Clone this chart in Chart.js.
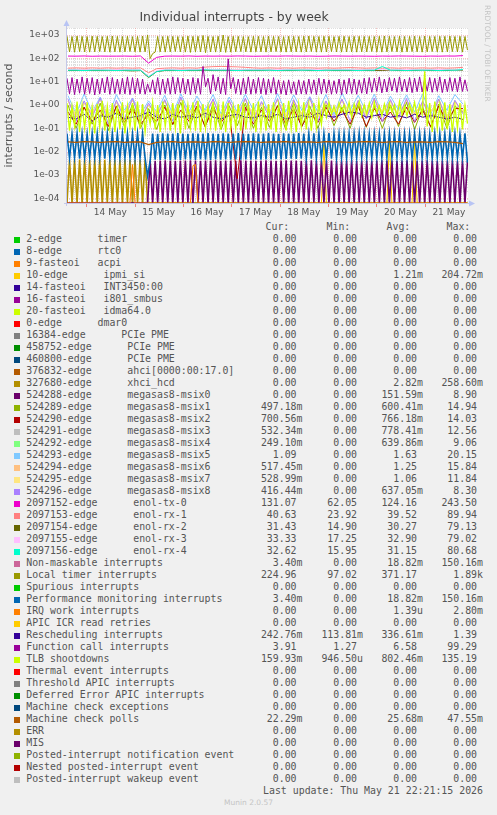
<!DOCTYPE html>
<html>
<head>
<meta charset="utf-8">
<script src="https://cdn.jsdelivr.net/npm/chart.js@4/dist/chart.umd.min.js"></script>
<style>
  body { margin: 0; background: #f0f0f0; width: 497px; height: 815px; overflow: hidden; position: relative; }
  #chart { position: absolute; left: 0; top: 0; }
  .t { position: absolute; font: 9.9px "DejaVu Sans Mono", monospace; line-height: 12px; height: 12px; white-space: pre; color: #555; }
  .v { text-align: right; width: 80px; }
  .sq { position: absolute; width: 6px; height: 6px; }
  #munin { position: absolute; left: 0; width: 497px; top: 798px; text-align: center; font: 7.5px "DejaVu Sans", sans-serif; color: #c4c4c4; }
</style>
</head>
<body>
<canvas id="chart" width="497" height="220"></canvas>
<div id="legend"></div>
<div id="munin">Munin 2.0.57</div>
<script>
// time axis in hours counted from 13 May 00:00
const xStartHour = 14.5;
const xEndHour = 213.5;
const dayLabelHours = [36, 60, 84, 108, 132, 156, 180, 204];
const dayLabels = ['14 May', '15 May', '16 May', '17 May', '18 May', '19 May', '20 May', '21 May'];
const yTickValues = [1e-4, 1e-3, 1e-2, 1e-1, 1, 10, 100, 1000];
const yTickLabels = ['1e-04', '1e-03', '1e-02', '1e-01', '1e+00', '1e+01', '1e+02', '1e+03'];
const yMin = 6.3e-5;
const yMax = 2000;

// rrd samples: fine = every 1.25 h (160 samples), coarse = every 4 h (50 samples)
const fineStart = 14.5, fineStep = 1.25;
const coarseStart = 15, coarseStep = 4;

// ---- fine series ----
const localTimer = [
  880,190,860,185,900,195,870,190,850,185,890,190,870,195,860,190,880,185,900,190,
  870,185,860,190,880,195,850,190,870,185,890,190,1000,98,160,185,870,190,860,185,
  880,190,870,195,860,190,850,185,900,180,870,190,880,190,950,175,870,190,860,185,
  880,190,1000,180,860,185,880,190,870,195,860,190,850,185,880,190,870,190,860,185,
  880,190,870,195,860,190,850,185,880,190,870,190,860,185,880,190,900,195,870,190,
  860,185,880,190,870,195,850,190,870,185,880,190,860,190,870,185,880,190,860,190,
  870,195,860,190,880,185,900,190,870,195,850,190,880,185,860,190,870,195,880,190,
  860,185,890,190,870,195,860,190,880,185,870,190,900,195,860,190,880,185,860,225
];
const funcCall = [
  14,3.0,15,2.8,13,3.2,16,2.9,14,3.1,15,2.7,13,3.0,14,3.3,16,2.9,15,3.1,
  13,2.9,14,3.0,16,2.8,15,3.1,14,3.0,13,2.9,8,3.5,12,3.0,15,2.8,13,3.1,
  14,2.9,16,3.0,15,3.2,14,3.0,13,2.8,15,3.1,14,2.9,45,6,14,3.0,20,4,
  16,3.0,14,2.8,95,5,15,3.1,13,2.8,14,3.0,16,2.9,13,3.1,15,3.0,14,2.8,
  13,3.2,15,2.9,12,3.0,11,2.7,12,3.1,10,2.8,12,3.0,11,2.9,13,3.1,12,2.8,
  14,3.0,13,3.2,12,2.9,11,3.1,13,2.8,12,3.0,14,3.1,13,2.9,12,3.2,14,3.0,
  15,3.5,14,3.8,16,3.3,13,3.6,15,4.0,14,3.5,16,3.8,13,3.6,15,3.4,14,3.7,
  16,3.6,13,3.9,15,3.5,14,3.8,16,3.4,13,3.7,15,3.9,14,3.6,16,3.8,12,3.9
];
const tlb = [
  1.2,0.08,0.9,0.12,1.4,0.07,1.0,0.10,1.3,0.09,0.8,0.06,1.1,0.11,1.5,0.08,0.9,0.10,1.2,0.07,
  1.0,0.09,1.3,0.06,0.9,0.11,1.2,0.08,1.4,0.10,1.1,0.07,0.6,0.15,1.3,0.09,1.0,0.07,1.4,0.12,
  0.9,0.08,1.2,0.10,1.1,0.06,1.6,0.09,1.0,0.11,1.3,0.08,1.5,0.07,1.1,0.10,0.9,0.12,1.3,0.08,
  1.0,0.09,1.4,0.07,1.2,0.11,0.9,0.10,1.1,0.08,1.3,0.09,1.0,0.12,1.2,0.07,1.4,0.10,0.9,0.08,
  1.1,0.09,1.3,0.07,1.0,0.11,1.2,0.08,1.5,0.10,0.9,0.07,1.1,0.12,1.3,0.09,1.0,0.08,1.2,0.11,
  1.4,0.15,1.1,0.3,1.3,0.4,0.9,0.35,1.2,0.5,1.0,0.4,1.3,0.3,1.1,0.45,1.4,0.35,1.0,0.4,
  1.2,0.3,1.3,0.45,0.9,0.35,1.1,0.4,1.2,0.5,1.0,0.3,1.4,0.4,0.9,0.35,1.1,0.45,1.3,0.3,
  1.0,0.4,28,0.12,1.2,0.07,1.4,0.10,1.0,0.08,1.3,0.09,1.1,0.07,0.9,0.10,1.2,0.09,1.0,0.16
];
const perfMon = [
  0.06,0.0052,0.058,0.0055,0.062,0.005,0.06,0.0053,0.057,0.0056,0.061,0.0052,0.06,0.0054,0.059,0.005,0.062,0.0055,0.06,0.0052,
  0.058,0.0054,0.061,0.0053,0.06,0.0055,0.059,0.0052,0.062,0.0054,0.06,0.0053,0.0009,0.004,0.06,0.0045,0.058,0.0044,0.061,0.0046,
  0.06,0.0043,0.059,0.0045,0.062,0.0044,0.06,0.0046,0.058,0.0045,0.061,0.0044,0.06,0.0046,0.059,0.0045,0.062,0.0044,0.06,0.0046,
  0.058,0.0045,0.061,0.0047,0.06,0.0045,0.059,0.0046,0.062,0.0045,0.06,0.0047,0.058,0.0045,0.061,0.0046,0.06,0.0045,0.059,0.0047,
  0.062,0.0046,0.06,0.0048,0.058,0.0047,0.061,0.0049,0.06,0.005,0.059,0.0049,0.062,0.005,0.06,0.0051,0.058,0.005,0.061,0.0052,
  0.06,0.0051,0.059,0.0053,0.062,0.005,0.06,0.0052,0.058,0.0054,0.061,0.0052,0.06,0.0053,0.059,0.0055,0.062,0.0054,0.06,0.0055,
  0.058,0.0053,0.061,0.0056,0.06,0.0054,0.059,0.0055,0.062,0.0053,0.06,0.0056,0.058,0.0054,0.061,0.0055,0.06,0.0053,0.059,0.0056,
  0.062,0.0054,0.06,0.0055,0.058,0.0053,0.061,0.0056,0.06,0.0054,0.059,0.0055,0.062,0.0053,0.06,0.0056,0.058,0.0054,0.061,0.0034
];
const xhciHcd = [
  0,0.0045,0,0.0045,0,0.0046,0,0.0045,0,0.0044,0,0.0045,0,0.0046,0,0.0045,0,0.0045,0,0.0044,
  0,0.0045,0,0.0046,0,0.0045,0,0.0044,0,0.0045,0,0.0045,0,0,0,0,0,0,0,0,
  0,0,0,0,0,0,0,0,0,0,0,0,0,0,0,0,0,0,0,0,
  0,0,0,0,0,0,0,0,0,0,0,0,0,0,0,0,0,0,0,0,
  0,0,0,0,0,0,0,0,0,0,0,0,0,0,0,0,0,0,0,0,
  0,0,0,0,0,0,0,0,0,0,0,0,0,0,0,0,0,0,0,0,
  0,0,0,0,0,0,0,0,0,0,0,0,0,0,0,0,0,0,0,0,
  0,0,0,0,0,0,0,0,0,0,0,0,0,0,0,0,0,0,0,0
];
const msix0 = [
  0,0,0,0,0,0,0,0,0,0,0,0,0,0,0,0,0,0,0,0,
  0,0,0,0,0,0,0,0,0,0,0,0,0,0.0042,0,0.0041,0,0.0042,0,0.0043,
  0,0.0042,0,0.0041,0,0.0042,0,0.0042,0,0.0043,0,0.0042,0,0.0041,0,0.0042,0,0.0042,0,0.0043,
  0,0.0041,0,0.0042,0,0.0042,0,0.0041,0,0.0043,0,0.0042,0,0.0042,0,0.0041,0,0.0042,0,0.0043,
  0,0.0042,0,0.0041,0,0.0042,0,0.0043,0,0.0042,0,0.0042,0,0.0041,0,0.0042,0,0.0043,0,0.0042,
  0,0.0042,0,0.0043,0,0.0042,0,0.0041,0,0.0042,0,0.0042,0,0.0043,0,0.0041,0,0.0042,0,0.0042,
  0,0.0041,0,0.0042,0,0.0043,0,0.0042,0,0.0042,0,0.0041,0,0.0042,0,0.0043,0,0.0042,0,0.0041,
  0,0.0042,0,0.0043,0,0.0042,0,0.0041,0,0.0042,0,0.0042,0,0.0043,0,0.0041,0,0.0042,0,0.0042
];
const irqWork = [
  0,0,0,0,0,0,0,0,0,0,0,0,0,0,0,0,0,0,0,0,
  0,0,0,0,0,0,0.0028,0,0,0,0,0,0,0,0,0,0,0,0,0,
  0,0,0,0,0,0,0,0,0,0,0.0025,0.0028,0,0,0,0,0,0,0,0,
  0,0,0,0,0,0,0,0,0,0,0,0,0,0,0,0,0,0,0,0,
  0,0,0,0,0,0,0,0,0,0,0,0,0,0,0,0,0,0,0,0,
  0,0,0,0,0,0,0,0,0,0,0,0,0,0,0,0,0,0,0,0,
  0,0,0,0,0,0,0,0,0,0,0,0,0,0,0,0,0,0,0,0,
  0,0,0,0,0,0,0,0,0,0,0,0,0,0,0,0,0,0,0,0
];
const ipmiSi = [
  0,0,0,0,0,0,0,0,0,0,0,0,0,0,0,0,0,0,0,0,
  0,0,0,0,0,0,0,0,0,0,0,0,0,0,0,0,0,0,0,0,
  0,0,0,0,0,0,0,0,0,0,0,0,0,0,0,0,0,0,0,0,
  0,0,0,0,0,0,0,0,0,0,0,0,0,0,0,0,0,0,0,0,
  0,0,0,0,0,0,0,0,0,0,0,0,0,0,0,0,0,0,0,0,
  0,0,0.02,0,0,0,0,0,0,0,0,0,0,0,0,0,0,0,0,0,
  0,0,0,0,0,0,0,0,0.03,0,0,0,0,0,0,0,0,0,0.025,0,
  0,0,0,0,0,0,0,0,0,0,0,0,0,0,0,0,0,0,0,0
];

// ---- coarse series ----
const tx0 = [125,124,126,123,125,124,124,125,123,126, 62,110,124,125,124,126,123,125,124,125,
  124,126,125,123,124,125,124,126,125,124, 125,123,124,126,125,124,125,124,123,125,
  124,126,125,124,123,125,124,126,125,131];
const rx1 = [38,39,38,39,38,39,38,39,38,39, 24,36,38,39,38,39,38,42,44,45,
  44,43,41,39,38,39,38,39,38,39, 39,38,39,38,39,40,39,38,39,38,
  39,38,39,38,39,38,39,38,39,41];
const rx2 = [30,30,31,30,30,30,31,30,29,30, 15,27,30,30,31,30,30,31,30,30,
  30,31,30,30,30,31,30,30,30,31, 30,30,31,30,30,30,31,30,30,30,
  31,30,30,30,31,30,30,30,31,31];
const rx3 = [33,33,32,33,33,32,33,33,33,32, 17,30,33,33,32,33,33,34,33,33,
  33,32,33,33,33,32,33,33,33,32, 33,33,32,33,33,33,32,33,33,33,
  32,33,33,33,32,33,33,33,32,33];
const rx4 = [31,31,30,31,31,31,30,31,31,31, 16,27,31,31,30,31,31,32,31,31,
  31,30,31,31,31,31,30,31,31,31, 31,30,31,31,31,31,30,31,31,45,
  31,31,30,31,31,31,30,31,31,33];
const resched = [0.3,0.25,0.4,0.2,0.35,0.3,0.45,0.25,0.3,0.35, 0.5,0.3,0.25,0.4,0.3,0.35,0.28,0.45,0.3,0.25,
  0.35,0.4,0.3,0.28,0.35,0.3,0.4,0.25,0.3,0.35, 0.3,0.45,0.35,0.3,0.4,0.5,0.45,0.3,0.35,0.4,
  0.3,0.35,0.28,0.4,0.3,0.35,0.3,0.25,0.3,0.24];
const mcPolls = [0.026,0.025,0.027,0.026,0.025,0.026,0.027,0.025,0.026,0.026, 0.02,0.025,0.026,0.027,0.025,0.026,0.026,0.025,0.027,0.026,
  0.025,0.026,0.027,0.026,0.025,0.026,0.026,0.027,0.025,0.026, 0.026,0.025,0.027,0.026,0.026,0.025,0.026,0.027,0.026,0.025,
  0.026,0.027,0.025,0.026,0.026,0.025,0.027,0.026,0.025,0.022];
const msix1 = [1.0,0.1,0.8,0.15,1.2,0.08,0.9,0.12,1.1,0.1, 0.7,0.09,1.0,0.14,1.3,0.1,0.8,0.12,1.1,0.09,
  0.9,0.13,1.2,0.1,0.8,0.11,1.0,0.09,1.3,0.12, 0.9,0.1,1.1,0.13,0.8,0.1,1.2,0.11,0.9,0.1,
  1.0,0.12,1.3,0.09,0.8,0.11,1.1,0.1,0.9,0.5];
const msix2 = [0.5,0.15,0.8,0.2,0.6,0.12,0.9,0.18,0.7,0.15, 0.4,0.2,0.8,0.15,0.6,0.2,0.9,0.12,0.7,0.18,
  0.5,0.0007,0.8,0.15,0.6,0.2,0.9,0.15,0.7,0.12, 0.5,0.18,0.8,0.2,0.6,0.15,0.9,0.12,0.7,0.2,
  0.5,0.15,0.8,0.18,0.6,0.12,0.9,0.2,0.7,0.70];
const msix5 = [2.5,0.4,3,0.5,2.2,0.3,2.8,0.6,2.0,0.4, 1.5,0.5,2.6,0.4,3.0,0.5,2.4,0.6,2.8,0.4,
  2.2,0.5,2.9,0.6,2.5,0.4,3.1,0.5,2.7,0.6, 2.3,0.5,2.8,0.4,3.2,0.6,2.6,0.5,2.9,0.4,
  2.4,0.6,2.7,0.5,3.0,0.4,2.5,0.6,2.8,1.09];
const msix6 = [1.5,0.3,1.2,0.4,1.8,0.3,1.4,0.5,1.6,0.3, 1.0,0.4,1.5,0.3,1.9,0.4,1.3,0.5,1.7,0.3,
  1.4,0.4,1.8,0.3,1.2,0.5,1.6,0.3,1.5,0.4, 1.9,0.3,1.3,0.5,1.7,0.4,1.4,0.3,1.8,0.5,
  1.5,0.3,1.6,0.4,1.3,0.5,1.7,0.3,1.4,0.52];
const msix7 = [1.4,0.4,1.1,0.5,1.6,0.35,1.2,0.45,1.5,0.4, 0.9,0.5,1.3,0.4,1.7,0.45,1.1,0.5,1.4,0.35,
  1.2,0.45,1.6,0.4,1.0,0.5,1.5,0.4,1.3,0.45, 1.7,0.35,1.1,0.5,1.4,0.45,1.2,0.4,1.6,0.5,
  1.3,0.4,1.5,0.45,1.1,0.5,1.4,0.35,1.2,0.53];
const msix8 = [1.8,0.2,1.5,0.3,2.0,0.15,1.6,0.25,1.9,0.2, 1.2,0.3,1.7,0.2,2.2,0.25,1.5,0.3,1.8,0.2,
  1.6,0.25,2.0,0.2,1.4,0.3,1.9,0.2,1.7,0.25, 2.1,0.2,1.5,0.3,1.8,0.2,1.6,0.25,2.0,0.2,
  1.7,0.3,1.9,0.2,1.5,0.25,1.8,0.2,1.6,0.42];

// ---- legend ----
const legendNames = [
  '2-edge      timer', '8-edge      rtc0', '9-fasteoi   acpi', '10-edge      ipmi_si',
  '14-fasteoi   INT3450:00', '16-fasteoi   i801_smbus', '20-fasteoi   idma64.0', '0-edge      dmar0',
  '16384-edge      PCIe PME', '458752-edge      PCIe PME', '460800-edge      PCIe PME',
  '376832-edge      ahci[0000:00:17.0]', '327680-edge      xhci_hcd',
  '524288-edge      megasas8-msix0', '524289-edge      megasas8-msix1', '524290-edge      megasas8-msix2',
  '524291-edge      megasas8-msix3', '524292-edge      megasas8-msix4', '524293-edge      megasas8-msix5',
  '524294-edge      megasas8-msix6', '524295-edge      megasas8-msix7', '524296-edge      megasas8-msix8',
  '2097152-edge      enol-tx-0', '2097153-edge      enol-rx-1', '2097154-edge      enol-rx-2',
  '2097155-edge      enol-rx-3', '2097156-edge      enol-rx-4',
  'Non-maskable interrupts', 'Local timer interrupts', 'Spurious interrupts',
  'Performance monitoring interrupts', 'IRQ work interrupts', 'APIC ICR read retries',
  'Rescheduling interrupts', 'Function call interrupts', 'TLB shootdowns',
  'Thermal event interrupts', 'Threshold APIC interrupts', 'Deferred Error APIC interrupts',
  'Machine check exceptions', 'Machine check polls', 'ERR', 'MIS',
  'Posted-interrupt notification event', 'Nested posted-interrupt event', 'Posted-interrupt wakeup event'
];
const legendColors = [
  '#00CC00', '#0066B3', '#FF8000', '#FFCC00', '#330099', '#990099', '#CCFF00', '#FF0000',
  '#808080', '#008F00', '#00487D', '#B35A00', '#B38F00', '#6B006B', '#8FB300', '#B30000',
  '#BEBEBE', '#80FF80', '#80C9FF', '#FFC080', '#FFE680', '#AA80FF', '#EE00CC', '#FF8080',
  '#666600', '#FFBFFF', '#00FFCC', '#CC6699', '#999900', '#00CC00', '#0066B3', '#FF8000',
  '#FFCC00', '#330099', '#990099', '#CCFF00', '#FF0000', '#808080', '#008F00', '#00487D',
  '#B35A00', '#B38F00', '#6B006B', '#8FB300', '#B30000', '#BEBEBE'
];
const curVals = ['0.00','0.00','0.00','0.00','0.00','0.00','0.00','0.00','0.00','0.00','0.00','0.00','0.00',
  '0.00','497.18m','700.56m','532.34m','249.10m','1.09','517.45m','528.99m','416.44m',
  '131.07','40.63','31.43','33.33','32.62','3.40m','224.96','0.00','3.40m','0.00','0.00',
  '242.76m','3.91','159.93m','0.00','0.00','0.00','0.00','22.29m','0.00','0.00','0.00','0.00','0.00'];
const minVals = ['0.00','0.00','0.00','0.00','0.00','0.00','0.00','0.00','0.00','0.00','0.00','0.00','0.00',
  '0.00','0.00','0.00','0.00','0.00','0.00','0.00','0.00','0.00',
  '62.05','23.92','14.90','17.25','15.95','0.00','97.02','0.00','0.00','0.00','0.00',
  '113.81m','1.27','946.50u','0.00','0.00','0.00','0.00','0.00','0.00','0.00','0.00','0.00','0.00'];
const avgVals = ['0.00','0.00','0.00','1.21m','0.00','0.00','0.00','0.00','0.00','0.00','0.00','0.00','2.82m',
  '151.59m','600.41m','766.18m','778.41m','639.86m','1.63','1.25','1.06','637.05m',
  '124.16','39.52','30.27','32.90','31.15','18.82m','371.17','0.00','18.82m','1.39u','0.00',
  '336.61m','6.58','802.46m','0.00','0.00','0.00','0.00','25.68m','0.00','0.00','0.00','0.00','0.00'];
const maxVals = ['0.00','0.00','0.00','204.72m','0.00','0.00','0.00','0.00','0.00','0.00','0.00','0.00','258.60m',
  '8.90','14.94','14.03','12.56','9.06','20.15','15.84','11.84','8.30',
  '243.50','89.94','79.13','79.02','80.68','150.16m','1.89k','0.00','150.16m','2.80m','0.00',
  '1.39','99.29','135.19','0.00','0.00','0.00','0.00','47.55m','0.00','0.00','0.00','0.00','0.00'];
const lastUpdate = 'Last update: Thu May 21 22:21:15 2026';

// which legend rows carry a drawn line (index into the legend arrays)
const plotted = [
  { row: 3, values: ipmiSi, fine: true },
  { row: 12, values: xhciHcd, fine: true, width: 1.6 },
  { row: 13, values: msix0, fine: true, width: 1.6 },
  { row: 14, values: msix1, fine: false },
  { row: 15, values: msix2, fine: false },
  { row: 18, values: msix5, fine: false },
  { row: 19, values: msix6, fine: false },
  { row: 20, values: msix7, fine: false },
  { row: 21, values: msix8, fine: false },
  { row: 22, values: tx0, fine: false },
  { row: 23, values: rx1, fine: false },
  { row: 24, values: rx2, fine: false },
  { row: 25, values: rx3, fine: false },
  { row: 26, values: rx4, fine: false },
  { row: 28, values: localTimer, fine: true },
  { row: 30, values: perfMon, fine: true, width: 1.6 },
  { row: 31, values: irqWork, fine: true },
  { row: 33, values: resched, fine: false },
  { row: 34, values: funcCall, fine: true },
  { row: 35, values: tlb, fine: true, width: 1.3 },
  { row: 40, values: mcPolls, fine: false, width: 1.3 }
];

// rrdtool puts zero at the bottom edge of a log graph
function toPoints(values, fine) {
  const start = fine ? fineStart : coarseStart;
  const step = fine ? fineStep : coarseStep;
  return values.map((v, i) => ({ x: start + i * step, y: v === 0 ? yMin : v }));
}

const datasets = plotted.map(p => ({
  label: legendNames[p.row],
  data: toPoints(p.values, p.fine),
  borderColor: legendColors[p.row],
  borderWidth: p.width || 1,
  pointRadius: 0,
  tension: 0,
  fill: false,
  order: -p.row   // later rows are painted on top, like rrdtool
}));

const majorGrid = 'rgba(240,150,150,0.6)';
const minorGrid = 'rgba(190,190,190,0.5)';

const rrdLook = {
  id: 'rrdLook',
  beforeDraw(chart) {
    const { ctx, chartArea: a } = chart;
    ctx.save();
    ctx.fillStyle = '#ffffff';
    ctx.fillRect(a.left, a.top, a.right - a.left, a.bottom - a.top);
    ctx.restore();
  },
  beforeDatasetsDraw(chart) {
    const { ctx, chartArea: a, scales } = chart;
    ctx.save();
    ctx.lineWidth = 1;
    ctx.setLineDash([1, 1]);
    // horizontal grid
    for (let e = -5; e <= 3; e++) {
      for (let m = 1; m <= 9; m++) {
        const v = m * Math.pow(10, e);
        if (v < yMin || v > yMax) continue;
        const y = Math.round(scales.y.getPixelForValue(v)) + 0.5;
        ctx.strokeStyle = m === 1 ? majorGrid : minorGrid;
        ctx.beginPath(); ctx.moveTo(a.left, y); ctx.lineTo(a.right, y); ctx.stroke();
      }
    }
    // vertical grid: 6 h minor, midnight major
    for (let h = 18; h < xEndHour; h += 6) {
      const x = Math.round(scales.x.getPixelForValue(h)) + 0.5;
      ctx.strokeStyle = h % 24 === 0 ? majorGrid : minorGrid;
      ctx.beginPath(); ctx.moveTo(x, a.top); ctx.lineTo(x, a.bottom); ctx.stroke();
    }
    ctx.restore();
  },
  afterDatasetsDraw(chart) {
    const { ctx, chartArea: a, scales } = chart;
    ctx.save();
    ctx.strokeStyle = '#c4c8e8';
    ctx.lineWidth = 1;
    ctx.beginPath();
    ctx.moveTo(a.left - 0.5, a.bottom + 3); ctx.lineTo(a.left - 0.5, a.top - 5);
    ctx.moveTo(a.left - 3, a.bottom + 0.5); ctx.lineTo(a.right + 3, a.bottom + 0.5);
    ctx.stroke();
    // midnight ticks under the axis
    ctx.strokeStyle = 'rgba(235,120,120,0.9)';
    for (let h = 24; h < xEndHour; h += 24) {
      const x = Math.round(scales.x.getPixelForValue(h)) + 0.5;
      ctx.beginPath(); ctx.moveTo(x, a.bottom + 1); ctx.lineTo(x, a.bottom + 4); ctx.stroke();
    }
    ctx.fillStyle = '#b8c4f4';
    ctx.beginPath();
    ctx.moveTo(a.left - 0.5, a.top - 8); ctx.lineTo(a.left - 3.5, a.top - 2); ctx.lineTo(a.left + 2.5, a.top - 2);
    ctx.closePath(); ctx.fill();
    ctx.beginPath();
    ctx.moveTo(a.right + 7, a.bottom + 0.5); ctx.lineTo(a.right + 1, a.bottom - 2.5); ctx.lineTo(a.right + 1, a.bottom + 3.5);
    ctx.closePath(); ctx.fill();
    ctx.restore();
  },
  afterDraw(chart) {
    const ctx = chart.ctx;
    ctx.save();
    ctx.translate(487, 5);
    ctx.rotate(Math.PI / 2);
    ctx.fillStyle = '#c4c4c4';
    ctx.font = '7.5px "DejaVu Sans"';
    ctx.textAlign = 'left';
    ctx.textBaseline = 'middle';
    ctx.fillText('RRDTOOL / TOBI OETIKER', 0, 0);
    ctx.restore();
  }
};

new Chart(document.getElementById('chart'), {
  type: 'line',
  data: { datasets },
  options: {
    responsive: false,
    animation: false,
    devicePixelRatio: 1,
    layout: { padding: { left: 0, top: 0, right: 29, bottom: 0 } },
    plugins: {
      legend: { display: false },
      tooltip: { enabled: false },
      title: {
        display: true,
        text: 'Individual interrupts - by week',
        color: '#444',
        font: { family: 'DejaVu Sans', size: 12.4, weight: 'normal' },
        padding: { top: 10.5, bottom: 2.6 }
      }
    },
    scales: {
      x: {
        type: 'linear',
        min: xStartHour,
        max: xEndHour,
        afterFit: s => { s.height = 17; },
        afterBuildTicks: s => { s.ticks = dayLabelHours.map(v => ({ value: v })); },
        grid: { display: false, drawTicks: false },
        border: { display: false },
        ticks: {
          autoSkip: false, maxRotation: 0, padding: 4, color: '#555',
          font: { family: 'DejaVu Sans', size: 9 },
          callback: (v, i) => dayLabels[i]
        }
      },
      y: {
        type: 'logarithmic',
        min: yMin,
        max: yMax,
        afterFit: s => { s.width = 67; },
        afterBuildTicks: s => { s.ticks = yTickValues.map(v => ({ value: v })); },
        grid: { display: false, drawTicks: false },
        border: { display: false },
        title: {
          display: true,
          text: 'interrupts / second',
          color: '#555',
          font: { family: 'DejaVu Sans', size: 11 },
          padding: { top: 3, bottom: 0 }
        },
        ticks: {
          padding: 7.5, color: '#555',
          font: { family: 'DejaVu Sans', size: 9 },
          callback: (v, i) => yTickLabels[i]
        }
      }
    }
  },
  plugins: [rrdLook]
});

// legend block under the graph
const legend = document.getElementById('legend');
function put(text, left, top, cls) {
  const d = document.createElement('div');
  d.className = cls;
  d.style.left = left + 'px';
  d.style.top = top + 'px';
  d.textContent = text;
  legend.appendChild(d);
}
function unitPad(s) { return /\d$/.test(s) ? s + ' ' : s; }
const headTop = 221.3;
put('Cur:', 265.5, headTop, 't');
put('Min:', 326.5, headTop, 't');
put('Avg:', 386.5, headTop, 't');
put('Max:', 446.5, headTop, 't');
const colRight = [302.5, 363, 423, 483];
legendNames.forEach((name, i) => {
  const top = 233.3 + 12 * i;
  const sq = document.createElement('div');
  sq.className = 'sq';
  sq.style.left = '14px';
  sq.style.top = (top + 4) + 'px';
  sq.style.background = legendColors[i];
  legend.appendChild(sq);
  put(name, 26.2, top, 't');
  [curVals[i], minVals[i], avgVals[i], maxVals[i]].forEach((val, c) => {
    put(unitPad(val), colRight[c] - 80, top, 't v');
  });
});
const lu = document.createElement('div');
lu.className = 't';
lu.style.left = '183px';
lu.style.width = '300px';
lu.style.textAlign = 'right';
lu.style.top = '785px';
lu.textContent = lastUpdate;
legend.appendChild(lu);
</script>
</body>
</html>
